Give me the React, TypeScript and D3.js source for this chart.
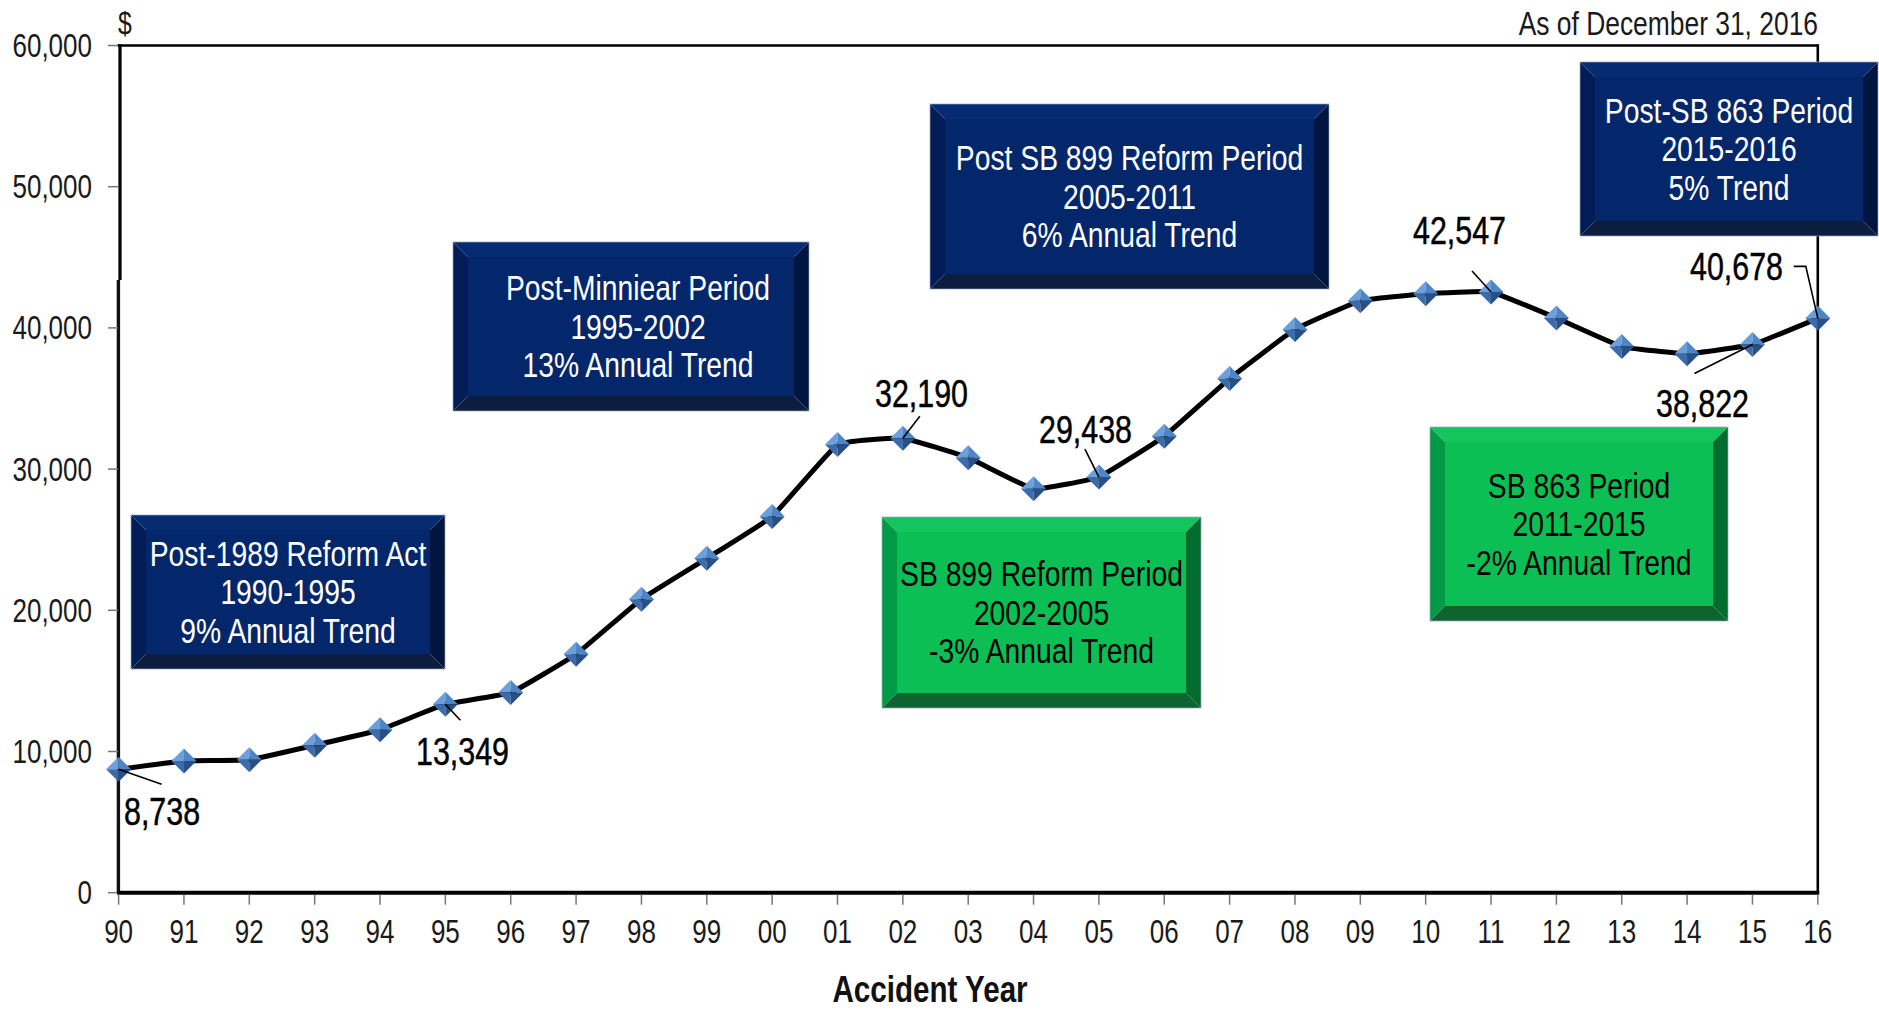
import React from "react";
import * as d3 from "d3";

// Average claim severity by accident year
const years = ["90","91","92","93","94","95","96","97","98","99","00","01","02","03","04","05","06","07","08","09","10","11","12","13","14","15","16"];
const severity = [8738, 9330, 9420, 10440, 11540, 13349, 14170, 16890, 20790, 23680, 26650, 31740, 32190, 30810, 28600, 29438, 32330, 36410, 39890, 41920, 42420, 42547, 40700, 38680, 38170, 38822, 40678];
const yTicks = [0, 10000, 20000, 30000, 40000, 50000, 60000];

// Years whose values are called out with a label
const calloutYears = ["90", "95", "02", "05", "11", "15", "16"];

// Period annotations
const periodLines = [
  ["Post-1989 Reform Act", "1990-1995", "9% Annual Trend"],
  ["Post-Minniear Period", "1995-2002", "13% Annual Trend"],
  ["SB 899 Reform Period", "2002-2005", "-3% Annual Trend"],
  ["Post SB 899 Reform Period", "2005-2011", "6% Annual Trend"],
  ["SB 863 Period", "2011-2015", "-2% Annual Trend"],
  ["Post-SB 863 Period", "2015-2016", "5% Trend"],
];
const periodKinds = ["up", "up", "down", "up", "down", "up"];

const W = 1879;
const H = 1011;
const plot = { left: 118.6, right: 1817.8, top: 45.5, bottom: 892.7 };

// Box placement for each period annotation (dx nudges the text block)
const boxLayout = [
  { x0: 131, y0: 515, x1: 445, y1: 669, dx: 0 },
  { x0: 453, y0: 242, x1: 809, y1: 411, dx: 7 },
  { x0: 882, y0: 517, x1: 1201, y1: 708, dx: 0 },
  { x0: 930, y0: 104, x1: 1329, y1: 289, dx: 0 },
  { x0: 1430, y0: 427, x1: 1728, y1: 621, dx: 0 },
  { x0: 1580, y0: 62, x1: 1878, y1: 236, dx: 0 },
];

// Callout label placement: label anchor and leader path relative to the point
const calloutLayout: Record<string, { tx: number; ty: number; anchor: string; leader: [number, number][] }> = {
  "90": { tx: 124, ty: 824, anchor: "start", leader: [[0, 0], [43, 15]] },
  "95": { tx: 416, ty: 764, anchor: "start", leader: [[0, 0], [15, 16]] },
  "02": { tx: 875, ty: 406, anchor: "start", leader: [[0, 0], [17, -22]] },
  "05": { tx: 1039, ty: 442, anchor: "start", leader: [[0, 0], [-14, -28]] },
  "11": { tx: 1413, ty: 243, anchor: "start", leader: [[0, 0], [-19, -21]] },
  "15": { tx: 1656, ty: 416, anchor: "start", leader: [[0, 0], [-58, 29]] },
  "16": { tx: 1783, ty: 279, anchor: "end", leader: [[0, 0], [-12, -52], [-24, -52]] },
};

const FONT = "'Liberation Sans', Arial, sans-serif";

const palette = {
  up: { face: "#04276b", top: "#062b72", left: "#021c55", right: "#00153f", bottom: "#0d1d40", text: "#ffffff" },
  down: { face: "#0bbf55", top: "#14c55d", left: "#009b44", right: "#006c2e", bottom: "#0f6331", text: "#000000" },
};

// Text set in a horizontally condensed face
function NText({ x, y, size, anchor = "start", fill = "#000", weight = "normal", stroke, sx = 0.8, children }: any) {
  return (
    <g transform={`translate(${x},${y}) scale(${sx},1)`}>
      <text
        textAnchor={anchor}
        fontSize={size}
        fill={fill}
        fontWeight={weight}
        fontFamily={FONT}
        stroke={stroke ? fill : undefined}
        strokeWidth={stroke || 0}
      >
        {children}
      </text>
    </g>
  );
}

function BevelBox({ b, kind, lines }: { b: { x0: number; y0: number; x1: number; y1: number; dx: number }; kind: string; lines: string[] }) {
  const c = (palette as any)[kind];
  const s = 15;
  const { x0, y0, x1, y1 } = b;
  const ix0 = x0 + s, iy0 = y0 + s, ix1 = x1 - s, iy1 = y1 - s;
  const poly = (pts: number[][]) => pts.map((p) => p.join(",")).join(" ");
  const cx = (x0 + x1) / 2 + b.dx;
  const cy = (y0 + y1) / 2;
  const lh = 38.5;
  return (
    <g>
      <polygon points={poly([[x0, y0], [x1, y0], [ix1, iy0], [ix0, iy0]])} fill={c.top} />
      <polygon points={poly([[x0, y0], [ix0, iy0], [ix0, iy1], [x0, y1]])} fill={c.left} />
      <polygon points={poly([[x1, y0], [x1, y1], [ix1, iy1], [ix1, iy0]])} fill={c.right} />
      <polygon points={poly([[x0, y1], [ix0, iy1], [ix1, iy1], [x1, y1]])} fill={c.bottom} />
      <rect x={ix0} y={iy0} width={ix1 - ix0} height={iy1 - iy0} fill={c.face} />
      <rect x={x0} y={y0} width={x1 - x0} height={y1 - y0} fill="none" stroke="#9aa6c0" strokeWidth={1} strokeOpacity={0.7} />
      {lines.map((t, i) => (
        <NText key={i} x={cx} y={cy + (i - 1) * lh + 12} size={34.5} sx={0.82} anchor="middle" fill={c.text}>
          {t}
        </NText>
      ))}
    </g>
  );
}

function Diamond({ x, y }: { x: number; y: number }) {
  const r = 12.5;
  return (
    <g transform={`translate(${x},${y})`}>
      <polygon points={`0,0 ${-r},0 0,${-r}`} fill="#6ba0dc" />
      <polygon points={`0,0 0,${-r} ${r},0`} fill="#4d85c6" />
      <polygon points={`0,0 ${-r},0 0,${r}`} fill="#3b6ba8" />
      <polygon points={`0,0 ${r},0 0,${r}`} fill="#294f85" />
    </g>
  );
}

export default function App() {
  const x = d3.scalePoint<string>().domain(years).range([plot.left, plot.right]).padding(0);
  const y = d3.scaleLinear().domain([0, 60000]).range([plot.bottom, plot.top]);

  const pts = years.map((yr, i) => ({ yr, v: severity[i], px: x(yr) as number, py: y(severity[i]) }));
  const line = d3
    .line<{ px: number; py: number }>()
    .x((d) => d.px)
    .y((d) => d.py)
    .curve(d3.curveCardinal.tension(0.7));
  const fmt = d3.format(",");

  return (
    <svg width={W} height={H} style={{ position: "absolute", left: 0, top: 0, background: "#fff" }} fontFamily={FONT}>
      <rect width={W} height={H} fill="#fff" />

      {/* frame */}
      <line x1={plot.left - 1} y1={plot.top} x2={plot.right} y2={plot.top} stroke="#000" strokeWidth={2.6} />
      <line x1={plot.right} y1={plot.top - 1.3} x2={plot.right} y2={plot.bottom} stroke="#000" strokeWidth={2.6} />
      <line x1={120} y1={plot.top - 1.3} x2={120} y2={280} stroke="#000" strokeWidth={3.2} />
      <line x1={118.4} y1={280} x2={118.4} y2={plot.bottom} stroke="#111" strokeWidth={3.4} />

      {/* y axis ticks and labels */}
      {yTicks.map((t) => (
        <g key={t}>
          <line x1={108} x2={118} y1={y(t)} y2={y(t)} stroke="#777" strokeWidth={1.5} />
          <NText x={92} y={y(t) + 11.5} size={32.5} anchor="end" fill="#1a1a1a">
            {fmt(t)}
          </NText>
        </g>
      ))}

      {/* x axis */}
      <line x1={plot.left - 1.5} x2={plot.right + 1.5} y1={plot.bottom} y2={plot.bottom} stroke="#000" strokeWidth={4} />
      {years.map((yr) => (
        <g key={yr}>
          <line x1={x(yr)} x2={x(yr)} y1={plot.bottom + 2} y2={plot.bottom + 12} stroke="#777" strokeWidth={1.5} />
          <NText x={x(yr)} y={942.5} size={32.5} anchor="middle" fill="#1a1a1a">
            {yr}
          </NText>
        </g>
      ))}

      <NText x={930} y={1002} size={37} sx={0.8} anchor="middle" weight="bold" fill="#111">
        Accident Year
      </NText>
      <NText x={118} y={34} size={31} fill="#1a1a1a">$</NText>
      <NText x={1818} y={35} size={33} anchor="end" fill="#1a1a1a">
        As of December 31, 2016
      </NText>

      {/* series */}
      <path d={line(pts) as string} fill="none" stroke="#000" strokeWidth={5} strokeLinejoin="round" />
      {pts.map((p) => (
        <Diamond key={p.yr} x={p.px} y={p.py} />
      ))}

      {/* callouts */}
      {calloutYears.map((yr) => {
        const p = pts[years.indexOf(yr)];
        const c = calloutLayout[yr];
        const path = d3.line()(c.leader.map(([dx, dy]) => [p.px + dx, p.py + dy]) as [number, number][]);
        return (
          <g key={yr}>
            <path d={path as string} fill="none" stroke="#000" strokeWidth={1.6} />
            <NText x={c.tx} y={c.ty + 1} size={38.5} sx={0.79} anchor={c.anchor} fill="#000" stroke={0.5}>
              {fmt(p.v)}
            </NText>
          </g>
        );
      })}

      {/* period annotations */}
      {periodLines.map((lines, i) => (
        <BevelBox key={i} b={boxLayout[i]} kind={periodKinds[i]} lines={lines} />
      ))}
    </svg>
  );
}
